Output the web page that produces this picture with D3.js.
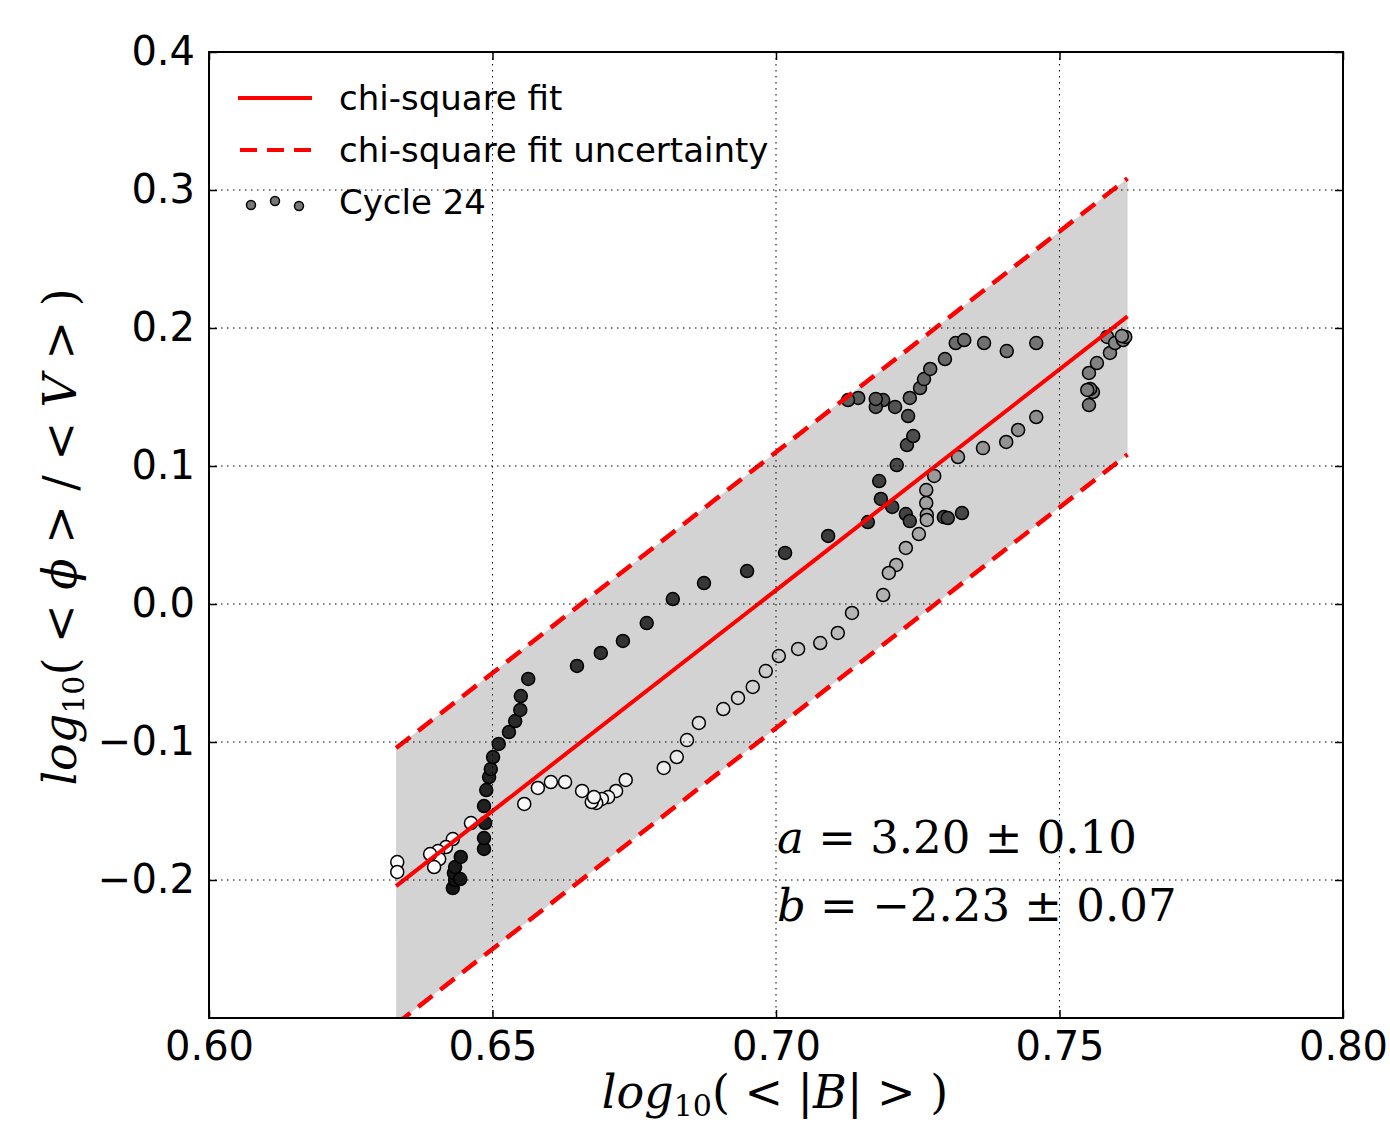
<!DOCTYPE html>
<html>
<head>
<meta charset="utf-8">
<script src="https://cdn.jsdelivr.net/npm/d3@7"></script>
<style>
body { margin: 0; background: #fff; }
</style>
</head>
<body>
<svg id="svg_fit" width="1390" height="1130"></svg>
<script>

// Cycle 24 points, in time order (early = dark, late = light)
const log_b = [0.6430, 0.6434, 0.6432, 0.6443, 0.6434, 0.6444, 0.6485, 0.6485, 0.6487, 0.6485,
    0.6489, 0.6494, 0.6497, 0.6501, 0.6511, 0.6529, 0.6540, 0.6549, 0.6550, 0.6563,
    0.6649, 0.6691, 0.6730, 0.6772, 0.6818, 0.6873, 0.6949, 0.7016, 0.7092, 0.7162,
    0.7185, 0.7182, 0.7205, 0.7229, 0.7236, 0.7296, 0.7303, 0.7328, 0.7213, 0.7231,
    0.7242, 0.7233, 0.7210, 0.7189, 0.7176, 0.7176, 0.7145, 0.7127, 0.7236, 0.7254,
    0.7261, 0.7272, 0.7298, 0.7317, 0.7332, 0.7367, 0.7407, 0.7459, 0.7552, 0.7559,
    0.7554, 0.7549, 0.7552, 0.7566, 0.7589, 0.7584, 0.7598, 0.7612, 0.7616, 0.7610,
    0.7459, 0.7427, 0.7406, 0.7365, 0.7321, 0.7279, 0.7265, 0.7265, 0.7266, 0.7266,
    0.7252, 0.7229, 0.7212, 0.7199, 0.7189, 0.7134, 0.7109, 0.7078, 0.7039, 0.7005,
    0.6982, 0.6959, 0.6933, 0.6907, 0.6864, 0.6843, 0.6825, 0.6802, 0.6735, 0.6718,
    0.6704, 0.6693, 0.6683, 0.6675, 0.6679, 0.6658, 0.6628, 0.6603, 0.6580, 0.6556,
    0.6462, 0.6430, 0.6418, 0.6404, 0.6406, 0.6390, 0.6397, 0.6332, 0.6332];

const log_ratio = [-0.2058, -0.2000, -0.1949, -0.1993, -0.1906, -0.1833, -0.1775, -0.1696, -0.1587, -0.1464,
    -0.1348, -0.1254, -0.1196, -0.1109, -0.1014, -0.0928, -0.0848, -0.0768, -0.0667, -0.0543,
    -0.0449, -0.0355, -0.0268, -0.0138, 0.0036, 0.0152, 0.0239, 0.0370, 0.0493, 0.0594,
    0.0761, 0.0891, 0.0703, 0.0652, 0.0601, 0.0630, 0.0623, 0.0659, 0.1007, 0.1152,
    0.1217, 0.1362, 0.1428, 0.1478, 0.1428, 0.1486, 0.1493, 0.1478, 0.1493, 0.1565,
    0.1630, 0.1703, 0.1775, 0.1891, 0.1913, 0.1891, 0.1833, 0.1891, 0.1442, 0.1536,
    0.1558, 0.1551, 0.1674, 0.1746, 0.1819, 0.1935, 0.1891, 0.1913, 0.1935, 0.1942,
    0.1355, 0.1261, 0.1174, 0.1130, 0.1065, 0.0928, 0.0826, 0.0732, 0.0645, 0.0609,
    0.0507, 0.0406, 0.0283, 0.0225, 0.0065, -0.0065, -0.0210, -0.0283, -0.0326, -0.0377,
    -0.0486, -0.0601, -0.0681, -0.0761, -0.0862, -0.0986, -0.1109, -0.1188, -0.1275, -0.1355,
    -0.1399, -0.1413, -0.1442, -0.1435, -0.1399, -0.1355, -0.1290, -0.1290, -0.1333, -0.1449,
    -0.1587, -0.1703, -0.1761, -0.1790, -0.1848, -0.1812, -0.1906, -0.1870, -0.1942];

// chi-square fit  y = a*x + b
const fit_a = 3.20, fit_a_err = 0.10,
    fit_b = -2.23, fit_b_err = 0.07;
const fit_range = [0.633, 0.762];
const fit_band = 0.1;

const x_ticks = [0.60, 0.65, 0.70, 0.75, 0.80],
    y_ticks = [-0.2, -0.1, 0.0, 0.1, 0.2, 0.3, 0.4];

const legend_labels = ["chi-square fit", "chi-square fit uncertainty", "Cycle 24"];


const svg = d3.select("#svg_fit");

const plot_left = 209, plot_right = 1343,
    plot_top = 52, plot_bottom = 1018;

const x_scale = d3.scaleLinear().domain([0.60, 0.80]).range([plot_left, plot_right]);
const y_scale = d3.scaleLinear().domain([-0.3, 0.4]).range([plot_bottom, plot_top]);

// gray colour along the time order
const n_pts = log_b.length;
const gray_scale = d3.scaleLinear()
    .domain([0, 0.17, 0.32, 0.49, 0.6, 0.72, 0.82, 1].map(f => f * (n_pts - 1)))
    .range(["#141414", "#303030", "#484848", "#777777", "#8f8f8f", "#b5b5b5", "#eeeeee", "#ffffff"]);

const fit = x => fit_a * x + fit_b;

svg.append("defs").append("clipPath").attr("id", "plot_clip")
    .append("rect")
    .attr("x", plot_left).attr("y", plot_top)
    .attr("width", plot_right - plot_left).attr("height", plot_bottom - plot_top);

const plot = svg.append("g").attr("clip-path", "url(#plot_clip)");

// uncertainty band
const band_area = d3.area()
    .x(d => x_scale(d))
    .y0(d => y_scale(fit(d) - fit_band))
    .y1(d => y_scale(fit(d) + fit_band));

plot.append("path")
    .datum(fit_range)
    .attr("d", band_area)
    .attr("fill", "#d3d3d3");

// points
plot.append("g").selectAll("circle")
    .data(log_b)
    .enter().append("circle")
        .attr("cx", d => x_scale(d))
        .attr("cy", (d, i) => y_scale(log_ratio[i]))
        .attr("r", 6.5)
        .attr("fill", (d, i) => gray_scale(i))
        .attr("stroke", "black")
        .attr("stroke-width", 1.5);

// fit lines
const line = d3.line().x(d => x_scale(d[0])).y(d => y_scale(d[1]));

plot.append("path")
    .datum(fit_range.map(x => [x, fit(x)]))
    .attr("d", line)
    .attr("fill", "none").attr("stroke", "red").attr("stroke-width", 4);

[fit_band, -fit_band].forEach(off => {
    plot.append("path")
        .datum(fit_range.map(x => [x, fit(x) + off]))
        .attr("d", line)
        .attr("fill", "none").attr("stroke", "red").attr("stroke-width", 4.5)
        .attr("stroke-dasharray", "18,10");
});

// grid
const grid = svg.append("g").attr("stroke", "black").attr("stroke-width", 1).attr("stroke-dasharray", "1.5,4.5");
grid.selectAll(".gx")
    .data(x_ticks.slice(1, -1))
    .enter().append("line")
        .attr("x1", d => x_scale(d)).attr("x2", d => x_scale(d))
        .attr("y1", plot_top).attr("y2", plot_bottom);
grid.selectAll(".gy")
    .data(y_ticks.filter(d => d > -0.3 && d < 0.4))
    .enter().append("line")
        .attr("y1", d => y_scale(d)).attr("y2", d => y_scale(d))
        .attr("x1", plot_left).attr("x2", plot_right);

// axes: ticks inside, on all four sides
const tick_fmt_x = d3.format(".2f");
const tick_fmt_y = d => d3.format(".1f")(d).replace("-", "\u2212");

const axis_font = "'DejaVu Sans', sans-serif";

svg.append("g")
    .attr("transform", `translate(0,${plot_bottom})`)
    .call(d3.axisBottom(x_scale).tickValues(x_ticks).tickFormat(tick_fmt_x).tickSizeInner(-8).tickSizeOuter(0).tickPadding(14))
    .call(g => g.select(".domain").remove())
    .call(g => g.selectAll("text").attr("font-size", 40).attr("font-family", axis_font).attr("fill", "black"));

svg.append("g")
    .attr("transform", `translate(0,${plot_top})`)
    .call(d3.axisTop(x_scale).tickValues(x_ticks).tickFormat("").tickSizeInner(-8).tickSizeOuter(0))
    .call(g => g.select(".domain").remove());

svg.append("g")
    .attr("transform", `translate(${plot_left},0)`)
    .call(d3.axisLeft(y_scale).tickValues(y_ticks).tickFormat(tick_fmt_y).tickSizeInner(-8).tickSizeOuter(0).tickPadding(14))
    .call(g => g.select(".domain").remove())
    .call(g => g.selectAll("text").attr("font-size", 40).attr("font-family", axis_font).attr("fill", "black"));

svg.append("g")
    .attr("transform", `translate(${plot_right},0)`)
    .call(d3.axisRight(y_scale).tickValues(y_ticks).tickFormat("").tickSizeInner(-8).tickSizeOuter(0))
    .call(g => g.select(".domain").remove());

svg.selectAll(".tick line").attr("stroke", "black").attr("stroke-width", 1.5);

svg.append("rect")
    .attr("x", plot_left).attr("y", plot_top)
    .attr("width", plot_right - plot_left).attr("height", plot_bottom - plot_top)
    .attr("fill", "none").attr("stroke", "black").attr("stroke-width", 2);

// legend
const legend = svg.append("g").attr("font-family", axis_font).attr("font-size", 34);
const leg_y = [98, 150, 202];

legend.append("line")
    .attr("x1", 238).attr("x2", 312).attr("y1", leg_y[0]).attr("y2", leg_y[0])
    .attr("stroke", "red").attr("stroke-width", 4);
legend.append("line")
    .attr("x1", 240).attr("x2", 312).attr("y1", leg_y[1]).attr("y2", leg_y[1])
    .attr("stroke", "red").attr("stroke-width", 4).attr("stroke-dasharray", "17,10");
legend.selectAll(".legpt")
    .data([[251, 3], [275, -1], [299, 4]])
    .enter().append("circle")
        .attr("cx", d => d[0]).attr("cy", d => leg_y[2] + d[1])
        .attr("r", 4.5).attr("fill", "#777777").attr("stroke", "black").attr("stroke-width", 1.5);

legend.selectAll("text")
    .data(legend_labels)
    .enter().append("text")
        .attr("x", 339).attr("y", (d, i) => leg_y[i] + 12)
        .text(d => d);

// fit parameters
const math_font = "'DejaVu Serif', serif";
const params = svg.append("g").attr("font-family", math_font).attr("font-size", 45);

const a_txt = params.append("text").attr("x", 777).attr("y", 853);
a_txt.append("tspan").attr("font-style", "italic").text("a");
a_txt.append("tspan").text(` = ${fit_a.toFixed(2)} \u00b1 ${fit_a_err.toFixed(2)}`);

const b_txt = params.append("text").attr("x", 777).attr("y", 921);
b_txt.append("tspan").attr("font-style", "italic").text("b");
b_txt.append("tspan").text(` = \u2212${Math.abs(fit_b).toFixed(2)} \u00b1 ${fit_b_err.toFixed(2)}`);

// axis labels
const xl = svg.append("text")
    .attr("x", 775).attr("y", 1108)
    .attr("text-anchor", "middle")
    .attr("font-family", math_font).attr("font-size", 46);
xl.append("tspan").attr("font-style", "italic").text("log");
xl.append("tspan").attr("font-size", 30).attr("dy", 8).text("10");
xl.append("tspan").attr("dy", -8).text("( < |");
xl.append("tspan").attr("font-style", "italic").text("B");
xl.append("tspan").text("| > )");

const yl = svg.append("text")
    .attr("transform", "translate(76,537) rotate(-90)")
    .attr("text-anchor", "middle")
    .attr("font-family", math_font).attr("font-size", 46);
yl.append("tspan").attr("font-style", "italic").text("log");
yl.append("tspan").attr("font-size", 30).attr("dy", 8).text("10");
yl.append("tspan").attr("dy", -8).text("( < ");
yl.append("tspan").attr("font-style", "italic").text("\u03d5");
yl.append("tspan").text(" > / < ");
yl.append("tspan").attr("font-style", "italic").text("V");
yl.append("tspan").text(" > )");

</script>
</body>
</html>
